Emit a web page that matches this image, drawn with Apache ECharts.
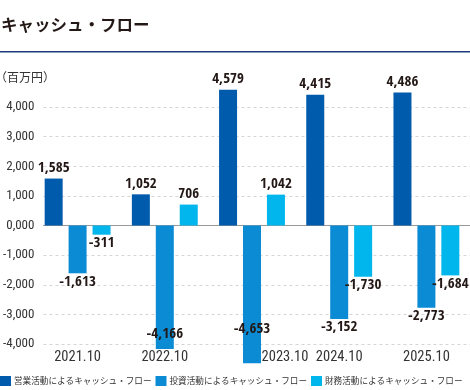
<!DOCTYPE html>
<html><head><meta charset="utf-8">
<script src="https://cdn.jsdelivr.net/npm/echarts@6/dist/echarts.min.js"></script>
<style>html,body{margin:0;padding:0;background:#fff}#c{width:470px;height:390px}</style>
</head><body><div id="c"></div>
<script>
const categories = ['2021.10','2022.10','2023.10','2024.10','2025.10'];
const operating = [1585, 1052, 4579, 4415, 4486];
const investing = [-1613, -4166, -4653, -3152, -2773];
const financing = [-311, 706, 1042, -1730, -1684];
const seriesNames = ['営業活動によるキャッシュ・フロー','投資活動によるキャッシュ・フロー','財務活動によるキャッシュ・フロー'];
const yTicks = [-4000,-3000,-2000,-1000,0,1000,2000,3000,4000];

const NARROW = '"Open Sans Condensed","Roboto Condensed",sans-serif';
const NARROW2 = '"Roboto Condensed","Open Sans Condensed",sans-serif';
const CJK = '"Noto Sans CJK JP","Noto Sans",sans-serif';
const colors = ['#005bac','#0a8bd4','#00b6ec'];
const fmt = v => (v < 0 ? '-' : '') + Math.abs(v).toLocaleString('en-US');

function mk(vals, insideIdx) {
  return vals.map((v, i) => {
    if (insideIdx && insideIdx[i] !== undefined) {
      return { value: v, label: { position: 'insideBottom', distance: insideIdx[i] } };
    }
    return { value: v, label: { position: v < 0 ? 'bottom' : 'top', distance: v < 0 ? 1 : 3 } };
  });
}
const labelBase = { show: true, fontFamily: NARROW, fontWeight: 'bold', fontSize: 15, color: '#231815', formatter: p => fmt(p.value) };

const chart = echarts.init(document.getElementById('c'));
chart.setOption({
  animation: false,
  color: colors,
  graphic: [
    { type: 'text', left: 1, top: 16, style: { text: 'キャッシュ・フロー', font: 'bold 16.5px ' + CJK, fill: '#231815' } },
    { type: 'rect', shape: { x: 0, y: 51, width: 470, height: 1.5 }, style: { fill: '#1f3a7a' } },
    { type: 'text', left: -5, top: 71, style: { text: '（百万円）', font: '12px ' + CJK, fill: '#333' } }
  ],
  legend: {
    left: 0, top: 376, width: 520, padding: 0, itemWidth: 11, itemHeight: 10, itemGap: 4, icon: 'rect',
    textStyle: { fontFamily: CJK, fontSize: 8.6, color: '#333', padding: [0, 0, 0, -2] },
    data: seriesNames
  },
  grid: [
    { left: 42, right: 0, top: 107, bottom: 46 },
    { left: 34, right: -4, top: 107, bottom: 46 }
  ],
  xAxis: [
    { gridIndex: 0, type: 'category', data: categories, axisLine: { show: true, onZero: true, lineStyle: { color: '#9a9a9a', width: 1 } }, axisTick: { show: false }, axisLabel: { show: false } },
    { gridIndex: 1, type: 'category', position: 'bottom',
      data: categories.map((c, i) => i === 2 ? { value: c, textStyle: { padding: [0, 0, 0, 66] } } : c),
      axisLine: { show: false, onZero: false }, axisTick: { show: false },
      axisLabel: { margin: 6, fontFamily: NARROW2, fontSize: 14.5, color: '#333' } }
  ],
  yAxis: [
    { gridIndex: 0, type: 'value', min: yTicks[0], max: yTicks[yTicks.length - 1], interval: 1000,
      axisLine: { show: false }, axisTick: { show: false },
      axisLabel: { margin: 9, fontFamily: NARROW2, fontSize: 13, color: '#333', formatter: v => v === 0 ? '0,000' : fmt(v) },
      splitLine: { show: true, lineStyle: { color: '#d5d5d5', type: [3, 3], width: 1 } } },
    { gridIndex: 1, type: 'value', min: yTicks[0], max: yTicks[yTicks.length - 1], interval: 1000, show: false, splitLine: { show: false } }
  ],
  series: [
    { name: seriesNames[0], type: 'bar', xAxisIndex: 1, yAxisIndex: 1, barWidth: 18, barGap: '33%', clip: false, label: labelBase, data: mk(operating) },
    { name: seriesNames[1], type: 'bar', xAxisIndex: 1, yAxisIndex: 1, barWidth: 18, barGap: '33%', clip: false, label: labelBase, data: mk(investing, { 1: 7, 2: 27 }) },
    { name: seriesNames[2], type: 'bar', xAxisIndex: 1, yAxisIndex: 1, barWidth: 18, barGap: '33%', clip: false, label: labelBase, data: mk(financing) }
  ]
});
</script></body></html>
